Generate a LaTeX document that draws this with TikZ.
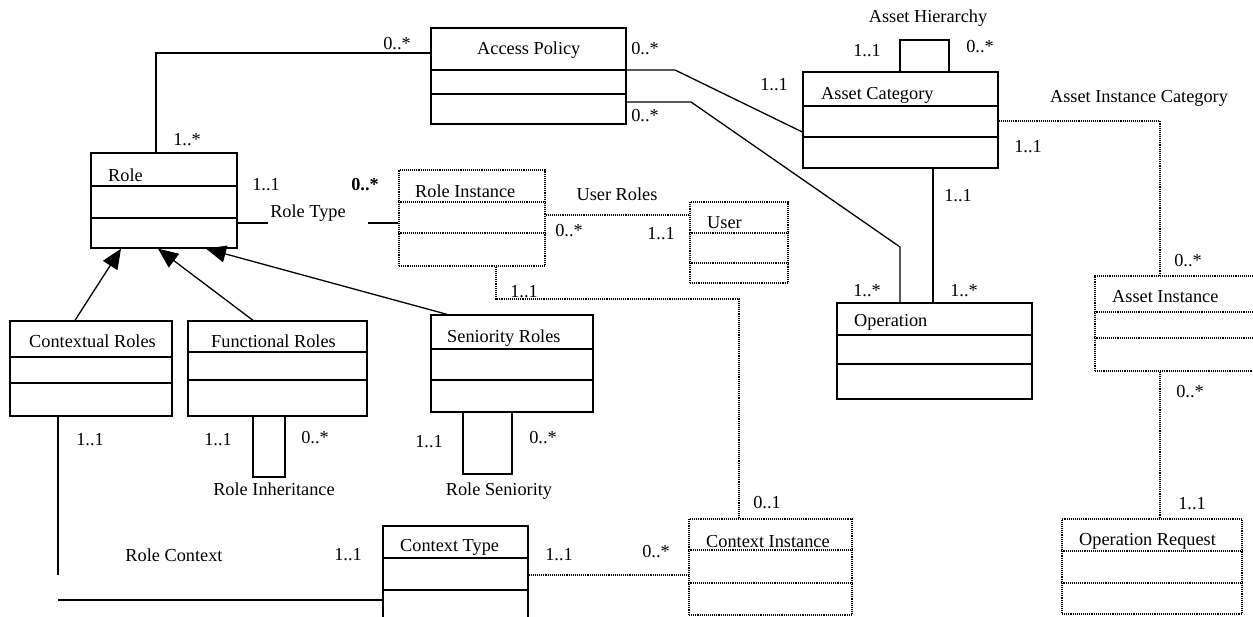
\documentclass[tikz,border=0pt]{standalone}
\usepackage{fontspec}
\setmainfont{Liberation Serif}
\usetikzlibrary{arrows.meta, positioning}

\begin{document}
\begin{tikzpicture}[
        x=1pt, y=-1pt,
        font=\fontsize{18.3}{21}\selectfont,
        cls/.style={rectangle, draw, line width=1.3pt, inner sep=0pt},
        inst/.style={rectangle, draw, line width=1.3pt, dash pattern=on 1.1pt off 1pt, inner sep=0pt},
        divider/.style={line width=1.3pt},
        ddivider/.style={line width=1.3pt, dash pattern=on 1.1pt off 1pt},
        ttl/.style={anchor=base west, inner sep=0pt},
        mult/.style={anchor=base, inner sep=0pt},
        assoc/.style={line width=1.3pt},
        link/.style={line width=1.3pt, dash pattern=on 1.1pt off 1pt},
        gen/.style={-{Triangle[length=20pt, width=17pt]}, line width=1.3pt}
    ]
        \useasboundingbox (0,0) rectangle (1253,617);

        % classes
        \node[cls, minimum width=195, minimum height=96] (ap)   at (528.5,76)  {};
        \node[cls, minimum width=146, minimum height=95] (role) at (164,200.5) {};
        \node[cls, minimum width=195, minimum height=96] (ac)   at (900.5,120) {};
        \node[cls, minimum width=195, minimum height=96] (op)   at (934.5,351) {};
        \node[cls, minimum width=162, minimum height=95] (cr)   at (91,368.5)  {};
        \node[cls, minimum width=179, minimum height=95] (fr)   at (277.5,368.5) {};
        \node[cls, minimum width=162, minimum height=97] (sr)   at (512,363.5) {};
        \node[cls, minimum width=145, minimum height=94] (ct)   at (455.5,573) {};

        \draw[divider] (ap.west |- 0,70) -- (ap.east |- 0,70) (ap.west |- 0,94) -- (ap.east |- 0,94);
        \draw[divider] (role.west |- 0,186) -- (role.east |- 0,186) (role.west |- 0,218) -- (role.east |- 0,218);
        \draw[divider] (ac.west |- 0,106) -- (ac.east |- 0,106) (ac.west |- 0,137) -- (ac.east |- 0,137);
        \draw[divider] (op.west |- 0,335) -- (op.east |- 0,335) (op.west |- 0,364) -- (op.east |- 0,364);
        \draw[divider] (cr.west |- 0,357) -- (cr.east |- 0,357) (cr.west |- 0,383) -- (cr.east |- 0,383);
        \draw[divider] (fr.west |- 0,352) -- (fr.east |- 0,352) (fr.west |- 0,380) -- (fr.east |- 0,380);
        \draw[divider] (sr.west |- 0,349) -- (sr.east |- 0,349) (sr.west |- 0,380) -- (sr.east |- 0,380);
        \draw[divider] (ct.west |- 0,558) -- (ct.east |- 0,558) (ct.west |- 0,590) -- (ct.east |- 0,590);

        \node[ttl] (ap-t)   at (477,55)  {Access Policy};
        \node[ttl] (role-t) at (108,182) {Role};
        \node[ttl] (ac-t)   at (821,100) {Asset Category};
        \node[ttl] (op-t)   at (854,327) {Operation};
        \node[ttl] (cr-t)   at (29,348)  {Contextual Roles};
        \node[ttl] (fr-t)   at (211,348) {Functional Roles};
        \node[ttl] (sr-t)   at (447,343) {Seniority Roles};
        \node[ttl] (ct-t)   at (400,551) {Context Type};

        % instances
        \node[inst, minimum width=146, minimum height=96] (ri)   at (472,218)    {};
        \node[inst, minimum width=98,  minimum height=81] (user) at (739,242.5)  {};
        \node[inst, minimum width=165, minimum height=95] (ai)   at (1177.5,323.5) {};
        \node[inst, minimum width=180, minimum height=95] (or)   at (1152,566.5) {};
        \node[inst, minimum width=163, minimum height=96] (ci)   at (770.5,567)  {};

        \draw[ddivider] (ri.west |- 0,202) -- (ri.east |- 0,202) (ri.west |- 0,233) -- (ri.east |- 0,233);
        \draw[ddivider] (user.west |- 0,233) -- (user.east |- 0,233) (user.west |- 0,263) -- (user.east |- 0,263);
        \draw[ddivider] (ai.west |- 0,312) -- (ai.east |- 0,312) (ai.west |- 0,338) -- (ai.east |- 0,338);
        \draw[ddivider] (or.west |- 0,551) -- (or.east |- 0,551) (or.west |- 0,583) -- (or.east |- 0,583);
        \draw[ddivider] (ci.west |- 0,550) -- (ci.east |- 0,550) (ci.west |- 0,583) -- (ci.east |- 0,583);

        \node[ttl] (ri-t)   at (415,198)  {Role Instance};
        \node[ttl] (user-t) at (707,229)  {User};
        \node[ttl] (ai-t)   at (1112,303) {Asset Instance};
        \node[ttl] (or-t)   at (1079,545) {Operation Request};
        \node[ttl] (ci-t)   at (706,547)  {Context Instance};

        % associations
        \draw[assoc] (role.north -| 156,0) |- (ap.west |- 0,53);
        \draw[assoc] (ap.east |- 0,70) -- (675,70) -- (ac.west |- 0,132);
        \draw[assoc] (ap.east |- 0,102) -- (691,102) -- (900,247) -- (op.north -| 900,0);
        \draw[assoc] (ac.south -| 933,0) -- (op.north -| 933,0);
        \draw[assoc] (ac.north -| 900,0) |- (949,40) -- (ac.north -| 949,0);
        \draw[assoc] (fr.south -| 253,0) |- (285,477) -- (fr.south -| 285,0);
        \draw[assoc] (sr.south -| 463,0) |- (512,474) -- (sr.south -| 512,0);

        \coordinate (rt-l) at (268,223);
        \coordinate (rt-r) at (368,223);
        \draw[assoc] (role.east |- rt-l) -- (rt-l);
        \draw[assoc] (rt-r) -- (ri.west |- rt-r);

        \coordinate (rc-top) at (58,575);
        \coordinate (rc-bot) at (58,600);
        \draw[assoc] (cr.south -| rc-top) -- (rc-top);
        \draw[assoc] (rc-bot) -- (ct.west |- rc-bot);

        \draw[link] (ac.east |- 0,121) -| (ai.north -| 1160,0);
        \draw[link] (ai.south -| 1160,0) -- (or.north -| 1160,0);
        \draw[link] (ri.east |- 0,215) -- (user.west |- 0,215);
        \draw[link] (ri.south -| 496,0) |- (739,299) -- (ci.north -| 739,0);
        \draw[link] (ct.east |- 0,575) -- (ci.west |- 0,575);

        % generalisation
        \draw[gen] (cr.north -| 75,0) -- (role.south -| 121,0);
        \draw[gen] (fr.north -| 253,0) -- (role.south -| 158,0);
        \draw[gen] (sr.north -| 447,0) -- (role.south -| 206,0);

        % association names
        \node[mult] (n-rt) at (308,218) {Role Type};
        \node[mult] (n-ur) at (617,201) {User Roles};
        \node[mult] (n-ah) at (928,23)  {Asset Hierarchy};
        \node[mult] (n-aic) at (1139,103) {Asset Instance Category};
        \node[mult] (n-ri) at (274,495) {Role Inheritance};
        \node[mult] (n-rs) at (499,495) {Role Seniority};
        \node[mult] (n-rc) at (174,561) {Role Context};

        % multiplicities
        \node[mult] (m1)  at (397,50)   {0..*};
        \node[mult] (m2)  at (187,146)  {1..*};
        \node[mult] (m3)  at (266,191)  {1..1};
        \node[mult] (m4)  at (365,191)  {\bfseries 0..*};
        \node[mult] (m5)  at (645,55)   {0..*};
        \node[mult] (m6)  at (645,122)  {0..*};
        \node[mult] (m7)  at (774,91)   {1..1};
        \node[mult] (m8)  at (867,57)   {1..1};
        \node[mult] (m9)  at (980,53)   {0..*};
        \node[mult] (m10) at (1028,153) {1..1};
        \node[mult] (m11) at (958,202)  {1..1};
        \node[mult] (m12) at (867,297)  {1..*};
        \node[mult] (m13) at (964,297)  {1..*};
        \node[mult] (m14) at (1188,267) {0..*};
        \node[mult] (m15) at (1190,398) {0..*};
        \node[mult] (m16) at (1192,509) {1..1};
        \node[mult] (m17) at (569,237)  {0..*};
        \node[mult] (m18) at (661,240)  {1..1};
        \node[mult] (m19) at (524,298)  {1..1};
        \node[mult] (m20) at (767,508)  {0..1};
        \node[mult] (m21) at (559,560)  {1..1};
        \node[mult] (m22) at (656,557)  {0..*};
        \node[mult] (m23) at (90,445)   {1..1};
        \node[mult] (m24) at (218,445)  {1..1};
        \node[mult] (m25) at (315,443)  {0..*};
        \node[mult] (m26) at (348,560)  {1..1};
        \node[mult] (m27) at (429,447)  {1..1};
        \node[mult] (m28) at (543,443)  {0..*};
\end{tikzpicture}
\end{document}
